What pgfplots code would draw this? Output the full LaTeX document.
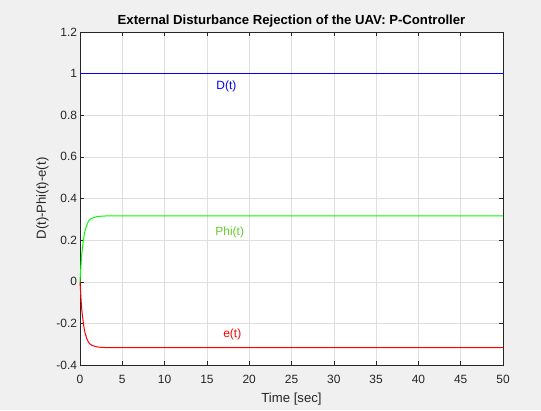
\documentclass[border=0pt]{standalone}
\usepackage{pgfplots}
\pgfplotsset{compat=1.18}
\usepackage{fontspec}
\setmainfont{Liberation Sans}
\definecolor{figbg}{RGB}{240,240,240}
\definecolor{axdark}{RGB}{38,38,38}
\definecolor{gridc}{RGB}{223,223,223}
\definecolor{lblue}{RGB}{0,0,255}
\definecolor{lgreen}{RGB}{0,255,0}
\definecolor{lred}{RGB}{255,0,0}
\definecolor{tgreen}{RGB}{100,205,40}

\pgfplotstableread{
t phi e
0 0 0
0.1 0.070 -0.070
0.2 0.130 -0.130
0.3 0.166 -0.166
0.4 0.200 -0.200
0.5 0.226 -0.226
0.6 0.246 -0.246
0.8 0.273 -0.273
1.0 0.290 -0.290
1.2 0.300 -0.300
1.5 0.307 -0.307
2.0 0.313 -0.313
2.5 0.315 -0.315
3.0 0.316 -0.316
50 0.316 -0.316
}\resp

\begin{document}
\begin{tikzpicture}[x=1bp,y=1bp]
\fill[figbg] (-80,-45) rectangle (461,365);
\begin{axis}[
    at={(0,0)}, anchor=south west,
    width=423bp, height=333bp, scale only axis,
    xmin=0, xmax=50, ymin=-0.4, ymax=1.2,
    xtick={0,5,...,50}, ytick={-0.4,-0.2,...,1.2},
    yticklabel style={/pgf/number format/fixed, /pgf/number format/precision=1, xshift=0.5bp},
    xticklabel style={yshift=-7bp},
    /pgf/number format/assume math mode=true,
    font=\fontsize{12}{14}\selectfont,
    tick label style={text=axdark},
    axis line style={axdark},
    major tick style={axdark, line width=0.5pt},
    tick align=inside, major tick length=4bp,
    grid=major, grid style={gridc, line width=0.5pt},
    axis background/.style={fill=white},
    title={\textbf{External Disturbance Rejection of the UAV: P-Controller}},
    title style={font=\fontsize{13.2}{15}\selectfont, yshift=-5bp},
    xlabel={Time [sec]}, ylabel={D(t)-Phi(t)-e(t)},
    label style={font=\fontsize{13.2}{15}\selectfont},
    xlabel style={text=axdark, yshift=-2bp},
    ylabel style={text=axdark, yshift=1bp},
    clip=false,
]
\addplot[lblue, line width=1bp] coordinates {(0,1) (50,1)};
\addplot[lgreen, line width=1bp] table[x=t, y=phi] {\resp};
\addplot[lred, line width=1bp] table[x=t, y=e] {\resp};
\node[lblue, font=\fontsize{12}{14}\selectfont] at (axis cs:17.3,0.94) {D(t)};
\node[tgreen, font=\fontsize{12}{14}\selectfont] at (axis cs:17.7,0.236) {Phi(t)};
\node[lred, font=\fontsize{12}{14}\selectfont] at (axis cs:18,-0.255) {e(t)};
\end{axis}
\end{tikzpicture}
\end{document}
